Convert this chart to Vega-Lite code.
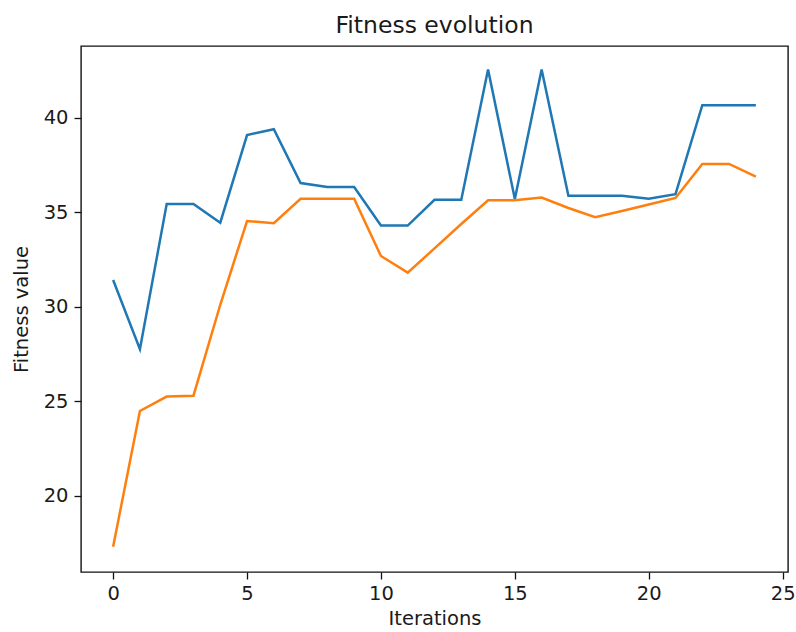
{
  "$schema": "https://vega.github.io/schema/vega-lite/v6.json",
  "autosize": "none",
  "width": 707,
  "height": 526,
  "padding": {"left": 81, "top": 46, "right": 8, "bottom": 60},
  "background": "white",
  "title": {
    "text": "Fitness evolution",
    "font": "DejaVu Sans",
    "fontSize": 23.5,
    "fontWeight": "normal",
    "color": "#1a1a1a",
    "anchor": "middle",
    "offset": 9
  },
  "data": {
    "values": [
      {"iteration": 0, "series": "best", "fitness": 31.41},
      {"iteration": 1, "series": "best", "fitness": 27.75},
      {"iteration": 2, "series": "best", "fitness": 35.43},
      {"iteration": 3, "series": "best", "fitness": 35.43},
      {"iteration": 4, "series": "best", "fitness": 34.44},
      {"iteration": 5, "series": "best", "fitness": 39.08},
      {"iteration": 6, "series": "best", "fitness": 39.39},
      {"iteration": 7, "series": "best", "fitness": 36.54},
      {"iteration": 8, "series": "best", "fitness": 36.33},
      {"iteration": 9, "series": "best", "fitness": 36.33},
      {"iteration": 10, "series": "best", "fitness": 34.29},
      {"iteration": 11, "series": "best", "fitness": 34.29},
      {"iteration": 12, "series": "best", "fitness": 35.65},
      {"iteration": 13, "series": "best", "fitness": 35.65},
      {"iteration": 14, "series": "best", "fitness": 42.55},
      {"iteration": 15, "series": "best", "fitness": 35.7},
      {"iteration": 16, "series": "best", "fitness": 42.55},
      {"iteration": 17, "series": "best", "fitness": 35.87},
      {"iteration": 18, "series": "best", "fitness": 35.87},
      {"iteration": 19, "series": "best", "fitness": 35.87},
      {"iteration": 20, "series": "best", "fitness": 35.71},
      {"iteration": 21, "series": "best", "fitness": 35.95},
      {"iteration": 22, "series": "best", "fitness": 40.66},
      {"iteration": 23, "series": "best", "fitness": 40.66},
      {"iteration": 24, "series": "best", "fitness": 40.66},
      {"iteration": 0, "series": "average", "fitness": 17.3},
      {"iteration": 1, "series": "average", "fitness": 24.48},
      {"iteration": 2, "series": "average", "fitness": 25.24},
      {"iteration": 3, "series": "average", "fitness": 25.29},
      {"iteration": 4, "series": "average", "fitness": 30.1},
      {"iteration": 5, "series": "average", "fitness": 34.53},
      {"iteration": 6, "series": "average", "fitness": 34.41},
      {"iteration": 7, "series": "average", "fitness": 35.71},
      {"iteration": 8, "series": "average", "fitness": 35.71},
      {"iteration": 9, "series": "average", "fitness": 35.71},
      {"iteration": 10, "series": "average", "fitness": 32.68},
      {"iteration": 11, "series": "average", "fitness": 31.8},
      {"iteration": 12, "series": "average", "fitness": 33.08},
      {"iteration": 13, "series": "average", "fitness": 34.37},
      {"iteration": 14, "series": "average", "fitness": 35.63},
      {"iteration": 15, "series": "average", "fitness": 35.63},
      {"iteration": 16, "series": "average", "fitness": 35.77},
      {"iteration": 17, "series": "average", "fitness": 35.22},
      {"iteration": 18, "series": "average", "fitness": 34.73},
      {"iteration": 19, "series": "average", "fitness": 35.06},
      {"iteration": 20, "series": "average", "fitness": 35.4},
      {"iteration": 21, "series": "average", "fitness": 35.75},
      {"iteration": 22, "series": "average", "fitness": 37.55},
      {"iteration": 23, "series": "average", "fitness": 37.55},
      {"iteration": 24, "series": "average", "fitness": 36.88}
    ]
  },
  "mark": {"type": "line", "strokeWidth": 2.5, "clip": true},
  "encoding": {
    "x": {
      "field": "iteration",
      "type": "quantitative",
      "title": "Iterations",
      "scale": {"domain": [-1.2, 25.2], "nice": false, "zero": false},
      "axis": {"values": [0, 5, 10, 15, 20, 25], "labelPadding": 5, "titlePadding": 7}
    },
    "y": {
      "field": "fitness",
      "type": "quantitative",
      "title": "Fitness value",
      "scale": {"domain": [15.96, 43.79], "nice": false, "zero": false},
      "axis": {"values": [20, 25, 30, 35, 40], "labelPadding": 6, "titlePadding": 12}
    },
    "color": {
      "field": "series",
      "type": "nominal",
      "sort": ["best", "average"],
      "scale": {"domain": ["best", "average"], "range": ["#1f77b4", "#ff7f0e"]},
      "legend": null
    },
    "order": {"field": "iteration", "type": "quantitative"}
  },
  "config": {
    "font": "DejaVu Sans",
    "view": {"stroke": "#111", "strokeWidth": 1.4},
    "axis": {
      "grid": false,
      "domain": false,
      "ticks": true,
      "tickSize": 7,
      "tickWidth": 1.3,
      "tickColor": "#111",
      "labelFont": "DejaVu Sans",
      "labelFontSize": 19.5,
      "labelColor": "#1a1a1a",
      "titleFont": "DejaVu Sans",
      "titleFontSize": 19.5,
      "titleFontWeight": "normal",
      "titleColor": "#1a1a1a"
    }
  }
}
